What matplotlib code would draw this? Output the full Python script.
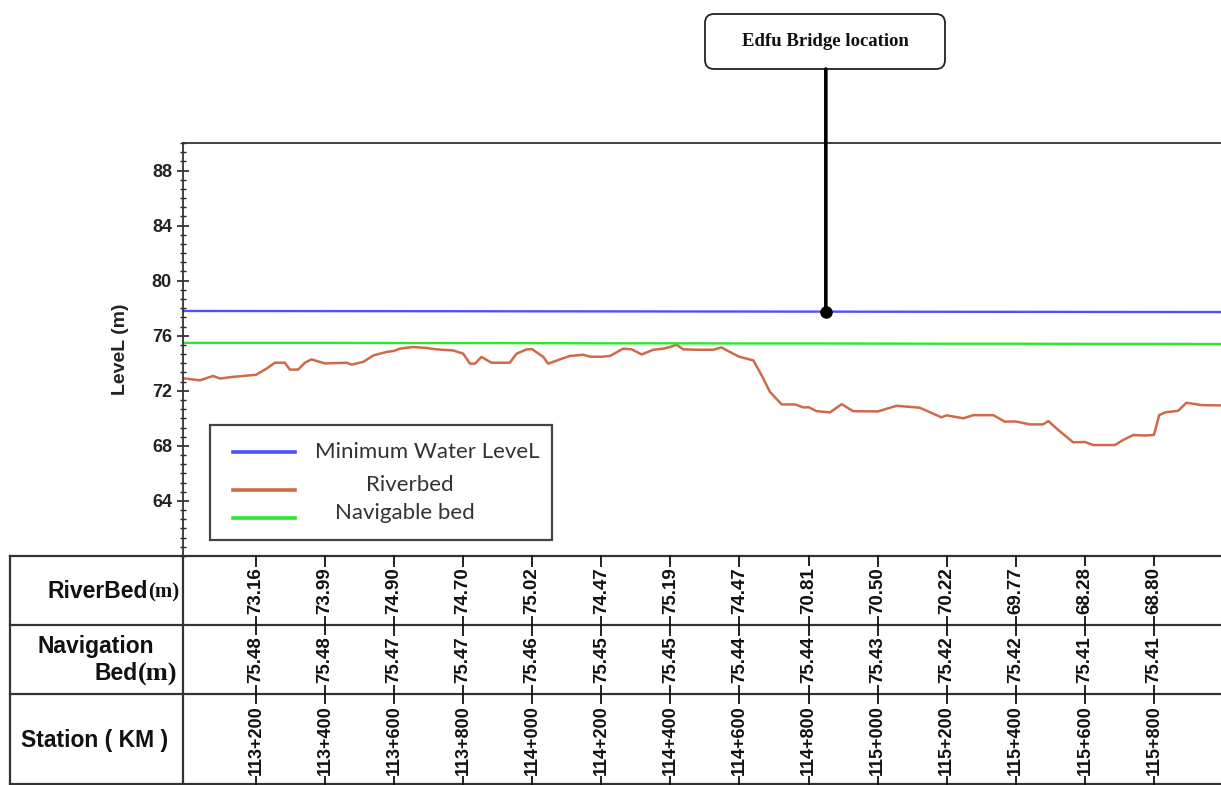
import numpy as np
import matplotlib
matplotlib.use('Agg')
import matplotlib.pyplot as plt
from matplotlib.patches import FancyBboxPatch, Rectangle
from matplotlib.ticker import MultipleLocator, AutoMinorLocator
from matplotlib.transforms import blended_transform_factory

plt.rcParams['font.family'] = ['Liberation Sans', 'DejaVu Sans']

# chainage of the table columns (m) and their labels
stations = [113200, 113400, 113600, 113800, 114000, 114200, 114400,
            114600, 114800, 115000, 115200, 115400, 115600, 115800]
station_labels = ['113+200', '113+400', '113+600', '113+800', '114+000', '114+200', '114+400',
                  '114+600', '114+800', '115+000', '115+200', '115+400', '115+600', '115+800']
riverbed_at_station = [73.16, 73.99, 74.90, 74.70, 75.02, 74.47, 75.19,
                       74.47, 70.81, 70.50, 70.22, 69.77, 68.28, 68.80]
navigation_bed = [75.48, 75.48, 75.47, 75.47, 75.46, 75.45, 75.45,
                  75.44, 75.44, 75.43, 75.42, 75.42, 75.41, 75.41]

# riverbed survey points between the table stations
profile_station = [112980, 113038, 113076, 113096, 113133, 113231, 113255, 113284, 113298, 113322,
                   113342, 113361, 113463, 113477, 113511, 113540, 113578, 113617, 113655, 113694,
                   113723, 113771, 113820, 113834, 113853, 113882, 113935, 113955, 113984, 114032,
                   114046, 114080, 114109, 114148, 114167, 114225, 114263, 114288, 114317, 114350,
                   114379, 114418, 114437, 114485, 114524, 114548, 114572, 114640, 114664, 114688,
                   114722, 114761, 114785, 114823, 114862, 114896, 114929, 115055, 115122, 115185,
                   115248, 115277, 115335, 115368, 115441, 115479, 115494, 115523, 115566, 115624,
                   115687, 115711, 115740, 115774, 115815, 115832, 115870, 115894, 115938, 116000]
profile_level = [72.94, 72.76, 73.08, 72.89, 73.01, 73.61, 74.04, 74.04, 73.54, 73.54,
                 74.04, 74.28, 74.04, 73.90, 74.10, 74.57, 74.82, 75.06, 75.18, 75.11,
                 75.01, 74.93, 73.97, 73.97, 74.46, 74.04, 74.04, 74.70, 75.01, 74.46,
                 73.97, 74.28, 74.53, 74.62, 74.48, 74.53, 75.06, 75.01, 74.64, 74.98,
                 75.06, 75.35, 75.01, 74.98, 74.98, 75.15, 74.82, 74.21, 73.13, 71.93,
                 71.01, 71.01, 70.79, 70.52, 70.43, 71.03, 70.52, 70.91, 70.77, 70.07,
                 70.00, 70.23, 70.23, 69.76, 69.56, 69.56, 69.80, 69.15, 68.26, 68.06,
                 68.06, 68.43, 68.79, 68.75, 70.23, 70.43, 70.55, 71.13, 70.96, 70.94]

nav_edges_station = [112980, 116000]
nav_edges_level = [75.48, 75.40]
min_water_station = [112980, 116000]
min_water_level = [77.80, 77.72]
bridge_station = 114850

# merge the survey points with the tabulated stations
bed_x = np.array(profile_station + stations)
bed_y = np.array(profile_level + riverbed_at_station)
order = np.argsort(bed_x)
bed_x, bed_y = bed_x[order], bed_y[order]

nav_x = [nav_edges_station[0]] + stations + [nav_edges_station[1]]
nav_y = [nav_edges_level[0]] + navigation_bed + [nav_edges_level[1]]

W, H = 1221, 785
fig = plt.figure(figsize=(W / 100, H / 100), dpi=100)

# overlay in pixel units for the table, legend box and callout
tab = fig.add_axes([0, 0, 1, 1], zorder=0)
tab.set_xlim(0, W)
tab.set_ylim(H, 0)
tab.axis('off')

ax = fig.add_axes([183 / W, (H - 556) / H, (W - 183) / W, (556 - 143) / H], zorder=1)
ax.patch.set_alpha(0)

ax.plot(min_water_station, min_water_level, color='#4f4fff', lw=1.7)
ax.plot(bed_x, bed_y, color='#cf6a48', lw=1.8)
ax.plot(nav_x, nav_y, color='#2ee62e', lw=1.7)

ax.set_xlim(112989, 115994)
ax.set_ylim(60, 90)
ax.yaxis.set_major_locator(MultipleLocator(4))
ax.yaxis.set_minor_locator(AutoMinorLocator(6))
ax.set_yticks([64, 68, 72, 76, 80, 84, 88])
ax.tick_params(axis='y', which='major', direction='inout', length=9, width=1.2,
               labelsize=13, colors='#222222')
ax.tick_params(axis='y', which='minor', direction='inout', length=4, width=1.0, color='#222222')
for lbl in ax.get_yticklabels():
    lbl.set_fontweight('bold')
ax.set_xticks([])
ax.spines['right'].set_visible(False)
ax.spines['bottom'].set_visible(False)
for s in ('top', 'left'):
    ax.spines[s].set_linewidth(1.3)
    ax.spines[s].set_color('#333333')
ax.set_ylabel('LeveL (m)', fontsize=14, fontweight='bold', color='#222222')
ax.yaxis.set_label_coords(-0.052, 0.5)

# bridge marker and callout
bridge_level = np.interp(bridge_station, min_water_station, min_water_level)
ax.annotate('', xy=(bridge_station, bridge_level), xytext=(bridge_station, H - 69),
            textcoords=('data', 'figure pixels'), annotation_clip=False,
            arrowprops=dict(arrowstyle='-', lw=2.6, color='black', shrinkA=0, shrinkB=0))
ax.plot(bridge_station, bridge_level, 'o', color='black', ms=8, clip_on=False)
tab.add_patch(FancyBboxPatch((705, 14), 240, 55, boxstyle='round,pad=0,rounding_size=9',
                             fc='white', ec='#222222', lw=1.3))
tab.text(825, 41, 'Edfu Bridge location', family='Liberation Serif', fontweight='bold',
         fontsize=13.5, ha='center', va='center', color='#111111')

# legend
tab.add_patch(Rectangle((210, 425), 342, 115, fc='white', ec='#444444', lw=1.6, zorder=2))
leg_items = [('Minimum Water LeveL', '#4f4fff', 452, 427, 452),
             ('Riverbed', '#cf6a48', 490, 410, 485),
             ('Navigable bed', '#2ee62e', 518, 405, 513)]
for text, col, ly, tx, ty in leg_items:
    tab.plot([233, 295], [ly, ly], color=col, lw=2.6, zorder=3)
    tab.text(tx, ty, text, family=['Lato', 'DejaVu Sans'], fontsize=16, ha='center',
             va='center', color='#333333', zorder=3)

# data table under the profile
line_kw = dict(color='#333333', lw=1.6)
for y in (556, 625, 694, 784):
    tab.plot([10, W], [y, y], **line_kw)
tab.plot([10, 10], [556, 785], **line_kw)
tab.plot([183, 183], [556, 785], **line_kw)

head_kw = dict(fontsize=16.5, fontweight='bold', va='center', color='#111111')
tab.text(148, 592, 'RiverBed', ha='right', **head_kw)
tab.text(148, 592, '(m)', ha='left', family='Liberation Serif', fontsize=15,
         fontweight='bold', va='center', color='#111111')
tab.text(96, 647, 'Navigation', ha='center', **head_kw)
tab.text(138, 674, 'Bed', ha='right', **head_kw)
tab.text(138, 674, '(m)', ha='left', family='Liberation Serif', fontsize=19,
         fontweight='bold', va='center', color='#111111')
tab.text(95, 740, 'Station ( KM )', ha='center', **head_kw)

col_tr = blended_transform_factory(ax.transData, tab.transData)
val_kw = dict(rotation=90, fontsize=13.5, fontweight='bold', ha='center', va='center',
              color='#111111', transform=col_tr, zorder=3,
              bbox=dict(fc='white', ec='none', pad=0.8))
for st, lab, rb, nb in zip(stations, station_labels, riverbed_at_station, navigation_bed):
    tab.plot([st, st], [556, 785], color='#111111', lw=1.3, transform=col_tr, zorder=2)
    tab.text(st, 591, f'{rb:.2f}', **val_kw)
    tab.text(st, 660, f'{nb:.2f}', **val_kw)
    tab.text(st, 740, lab, **dict(val_kw, fontsize=13))

fig.savefig('out.png', dpi=100)
